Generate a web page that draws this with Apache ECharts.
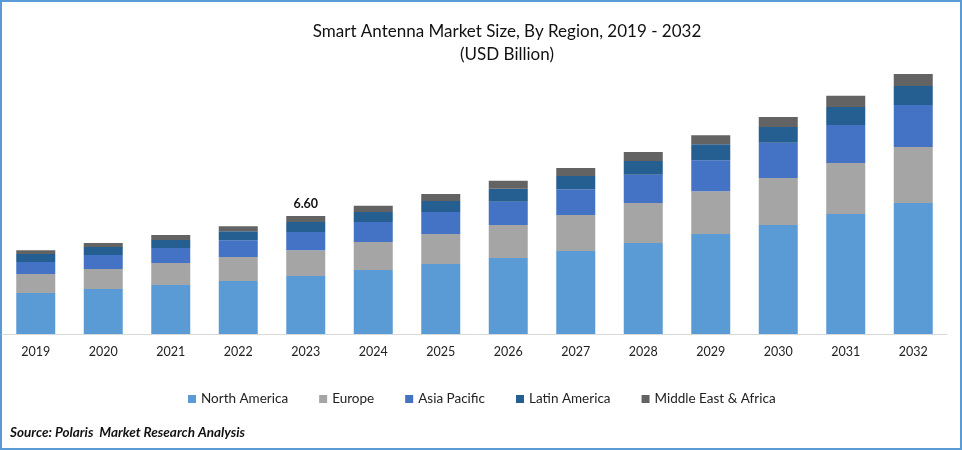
<!DOCTYPE html>
<html>
<head>
<meta charset="utf-8">
<style>
    html, body { margin: 0; padding: 0; background: #fff; }
    #test { width: 962px; height: 450px; }
</style>
<script src="https://cdn.jsdelivr.net/npm/echarts@6/dist/echarts.min.js"></script>
</head>
<body>
<div id="test"></div>
<script>
var years = ['2019', '2020', '2021', '2022', '2023', '2024', '2025', '2026', '2027', '2028', '2029', '2030', '2031', '2032'];
var northAmerica = [2.29, 2.52, 2.74, 2.96, 3.24, 3.58, 3.91, 4.25, 4.64, 5.09, 5.59, 6.10, 6.71, 7.33];
var europe = [1.06, 1.12, 1.23, 1.34, 1.45, 1.57, 1.68, 1.85, 2.01, 2.24, 2.40, 2.63, 2.85, 3.13];
var asiaPacific = [0.67, 0.78, 0.84, 0.95, 1.01, 1.12, 1.23, 1.29, 1.45, 1.57, 1.73, 1.96, 2.13, 2.35];
var latinAmerica = [0.45, 0.45, 0.45, 0.50, 0.56, 0.56, 0.62, 0.73, 0.73, 0.78, 0.89, 0.89, 1.01, 1.06];
var middleEast = [0.22, 0.22, 0.28, 0.28, 0.34, 0.34, 0.39, 0.45, 0.45, 0.50, 0.50, 0.56, 0.62, 0.67];
var labelledYear = '2023';

var fontName = 'Lato';
var el = document.getElementById('test');
var ec = echarts.init(el);

function bar(name, data, color) {
    return {
        name: name,
        type: 'bar',
        stack: 'total',
        barWidth: 39,
        data: data,
        itemStyle: { color: color }
    };
}

var topSeries = bar('Middle East & Africa', middleEast, '#636363');
topSeries.label = {
    show: true,
    position: 'top',
    distance: 6,
    fontFamily: fontName,
    fontSize: 12.5,
    fontWeight: 'bold',
    color: '#111',
    formatter: function (p) {
        if (p.name !== labelledYear) {
            return '';
        }
        var i = p.dataIndex;
        return (northAmerica[i] + europe[i] + asiaPacific[i] + latinAmerica[i] + middleEast[i]).toFixed(2);
    }
};

ec.setOption({
    animation: false,
    title: [
        {
            text: 'Smart Antenna Market Size, By Region, 2019 - 2032\n(USD Billion)',
            left: 502,
            top: 15,
            textAlign: 'center',
            textStyle: {
                fontFamily: fontName,
                fontSize: 17,
                fontWeight: 'normal',
                color: '#111',
                lineHeight: 23
            }
        },
        {
            text: 'Source: Polaris  Market Research Analysis',
            left: 5,
            top: 421,
            textStyle: {
                fontFamily: fontName,
                fontSize: 13.5,
                fontWeight: 'bold',
                fontStyle: 'italic',
                color: '#111'
            }
        }
    ],
    legend: {
        left: 188,
        top: 392,
        padding: 0,
        itemWidth: 8,
        itemHeight: 8,
        itemGap: 31,
        icon: 'rect',
        textStyle: {
            fontFamily: fontName,
            fontSize: 13.5,
            color: '#222'
        },
        data: ['North America', 'Europe', 'Asia Pacific', 'Latin America', 'Middle East & Africa']
    },
    grid: {
        left: 2,
        right: 15,
        top: 65.8,
        bottom: 116
    },
    xAxis: [
        {
            type: 'category',
            data: years,
            axisLine: { lineStyle: { color: '#d9d9d9', width: 1 } },
            axisTick: { show: false },
            axisLabel: {
                margin: 11,
                fontFamily: fontName,
                fontSize: 12.5,
                color: '#222'
            }
        }
    ],
    yAxis: [
        {
            type: 'value',
            min: 0,
            max: 15,
            show: false,
            splitLine: { show: false }
        }
    ],
    series: [
        bar('North America', northAmerica, '#5b9bd5'),
        bar('Europe', europe, '#a5a5a5'),
        bar('Asia Pacific', asiaPacific, '#4472c4'),
        bar('Latin America', latinAmerica, '#255e91'),
        topSeries
    ],
    graphic: [
        {
            type: 'rect',
            silent: true,
            shape: { x: 1, y: 1, width: 960, height: 448 },
            style: { fill: 'none', stroke: '#5b9bd5', lineWidth: 2 }
        }
    ]
});
</script>
</body>
</html>
